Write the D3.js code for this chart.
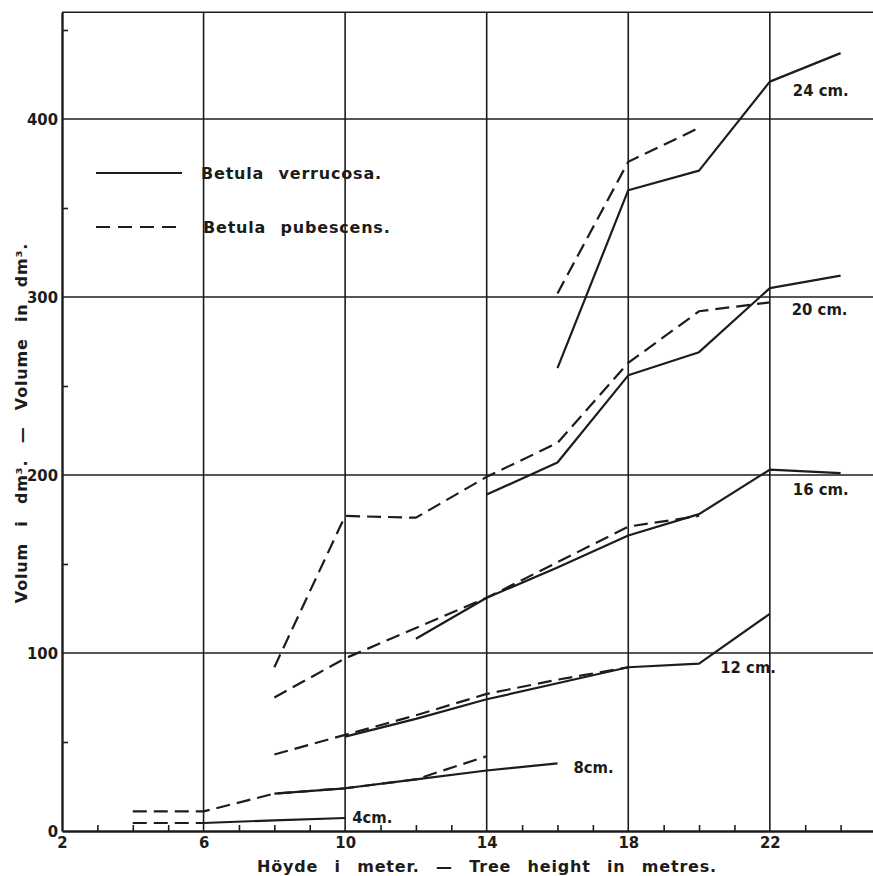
<!DOCTYPE html>
<html>
<head>
<meta charset="utf-8">
<script src="https://cdn.jsdelivr.net/npm/d3@7"></script>
<style>
  html, body { margin: 0; padding: 0; background: #fff; }
  svg { display: block; }
  text { fill: #1c1c1c; }
</style>
</head>
<body>
<svg id="chart" width="873" height="876"></svg>
<script>
// ---------- data ----------
const xTickLabels = [2, 6, 10, 14, 18, 22];
const yTickLabels = [0, 100, 200, 300, 400];
const xGrid = [6, 10, 14, 18, 22];
const yGrid = [100, 200, 300, 400, 460];

// Betula verrucosa (solid)
const v24 = [[16, 260], [18, 360], [20, 371], [22, 421], [24, 437]];
const v20 = [[14, 189], [16, 207], [18, 256], [20, 269], [22, 305], [24, 312]];
const v16 = [[12, 108], [14, 131], [16, 148], [18, 166], [20, 178], [22, 203], [24, 201]];
const v12 = [[10, 53], [12, 63], [14, 74], [16, 83], [18, 92], [20, 94], [22, 122]];
const v8  = [[8, 21], [10, 24], [12, 29], [14, 34], [16, 38]];
const v4  = [[6, 4.5], [8, 6], [10, 7.3]];

// Betula pubescens (dashed)
const p24 = [[16, 302], [18, 376], [20, 395]];
const p20 = [[8, 92], [10, 177], [12, 176], [14, 199], [16, 218], [18, 263], [20, 292], [22, 297]];
const p16 = [[8, 75], [10, 97], [12, 114], [14, 131], [16, 151], [18, 171], [20, 177]];
const p12 = [[8, 43], [10, 54], [12, 65], [14, 77], [16, 85], [18, 92]];
const p8  = [[4, 11], [6, 11], [8, 21], [10, 24], [12, 29], [14, 42]];
const p4  = [[4, 4.5], [6, 4.5]];

const curveLabels = ["24 cm.", "20 cm.", "16 cm.", "12 cm.", "8cm.", "4cm."];
const curveLabelX = [22.65, 22.62, 22.65, 20.6, 16.45, 10.2];
const curveLabelY = [416, 293, 192, 92, 36, 8];

const legendLabels = ["Betula verrucosa.", "Betula pubescens."];
const yTitle = "Volum i dm³. — Volume in dm³.";
const xTitle = "Höyde i meter. — Tree height in metres.";

// ---------- drawing ----------
const ink = "#1c1c1c";
const condensed = "'DejaVu Sans Condensed', 'DejaVu Sans', sans-serif";
const svg = d3.select("#chart");
const x = d3.scaleLinear().domain([2, 25]).range([62, 876]);
const y = d3.scaleLinear().domain([0, 460]).range([831, 12.2]);

// grid
const grid = svg.append("g").attr("stroke", ink).attr("stroke-width", 1.6);
grid.selectAll("line.v").data(xGrid).join("line")
  .attr("x1", d => x(d)).attr("x2", d => x(d))
  .attr("y1", y(0)).attr("y2", y(460));
grid.selectAll("line.h").data(yGrid).join("line")
  .attr("y1", d => y(d)).attr("y2", d => y(d))
  .attr("x1", x(2)).attr("x2", x(25));

// minor ticks (axes)
const xMinor = d3.range(3, 25).filter(d => !xGrid.includes(d));
const gxMinor = svg.append("g").attr("transform", `translate(0,${y(0)})`)
  .call(d3.axisBottom(x).tickValues(xMinor).tickSize(-6).tickFormat(""));
gxMinor.select(".domain").remove();
gxMinor.selectAll("line").attr("stroke", ink).attr("stroke-width", 1.6);

const yMinor = [50, 150, 250, 350, 450];
const gyMinor = svg.append("g").attr("transform", `translate(${x(2)},0)`)
  .call(d3.axisLeft(y).tickValues(yMinor).tickSize(-6).tickFormat(""));
gyMinor.select(".domain").remove();
gyMinor.selectAll("line").attr("stroke", ink).attr("stroke-width", 1.6);

// main axes with labels
const gx = svg.append("g").attr("transform", `translate(0,${y(0)})`)
  .call(d3.axisBottom(x).tickValues(xTickLabels).tickSize(0).tickPadding(5).tickFormat(d3.format("d")));
gx.select(".domain").attr("stroke", ink).attr("stroke-width", 2.4);
gx.selectAll("text").attr("font-family", condensed)
  .attr("font-size", 16.5).attr("font-weight", 600).attr("fill", ink);

const gy = svg.append("g").attr("transform", `translate(${x(2)},0)`)
  .call(d3.axisLeft(y).tickValues(yTickLabels).tickSize(0).tickPadding(4).tickFormat(d3.format("d")));
gy.select(".domain").attr("stroke", ink).attr("stroke-width", 2.4);
gy.selectAll("text").attr("font-family", condensed)
  .attr("font-size", 16.5).attr("font-weight", 600).attr("fill", ink);

// curves
const line = d3.line().x(d => x(d[0])).y(d => y(d[1]));
const solid = [v24, v20, v16, v12, v8, v4];
const dashed = [p24, p20, p16, p12, p8, p4];
svg.append("g").selectAll("path").data(solid).join("path")
  .attr("d", line).attr("fill", "none").attr("stroke", ink)
  .attr("stroke-width", 2.2).attr("stroke-linejoin", "round");
svg.append("g").selectAll("path").data(dashed).join("path")
  .attr("d", line).attr("fill", "none").attr("stroke", ink)
  .attr("stroke-width", 2.2).attr("stroke-dasharray", "14,7");

// curve labels
svg.append("g").selectAll("text").data(curveLabels).join("text")
  .attr("x", (d, i) => x(curveLabelX[i]))
  .attr("y", (d, i) => y(curveLabelY[i]))
  .attr("dy", "0.35em")
  .attr("font-family", condensed)
  .attr("font-size", 16.5).attr("font-weight", 600)
  .text(d => d);

// legend
const lg = svg.append("g");
lg.append("line").attr("x1", 96).attr("x2", 182).attr("y1", 173).attr("y2", 173)
  .attr("stroke", ink).attr("stroke-width", 2.2);
lg.append("line").attr("x1", 96).attr("x2", 178).attr("y1", 227).attr("y2", 227)
  .attr("stroke", ink).attr("stroke-width", 2.2).attr("stroke-dasharray", "14,8");
lg.selectAll("text").data(legendLabels).join("text")
  .attr("x", (d, i) => i === 0 ? 201 : 203)
  .attr("y", (d, i) => i === 0 ? 173 : 227)
  .attr("dy", "0.35em")
  .attr("font-family", "'DejaVu Sans', sans-serif")
  .attr("font-size", 16).attr("font-weight", 600)
  .attr("letter-spacing", 0.8).attr("word-spacing", 8)
  .text(d => d);

// axis titles
svg.append("text")
  .attr("transform", "translate(21,423) rotate(-90)")
  .attr("text-anchor", "middle").attr("dy", "0.35em")
  .attr("font-family", "'DejaVu Sans', sans-serif")
  .attr("font-size", 16).attr("font-weight", 600)
  .attr("letter-spacing", 0.8).attr("word-spacing", 10)
  .text(yTitle);
svg.append("text")
  .attr("x", 487).attr("y", 866)
  .attr("text-anchor", "middle").attr("dy", "0.35em")
  .attr("font-family", "'DejaVu Sans', sans-serif")
  .attr("font-size", 16).attr("font-weight", 600)
  .attr("letter-spacing", 0.8).attr("word-spacing", 10)
  .text(xTitle);
</script>
</body>
</html>
